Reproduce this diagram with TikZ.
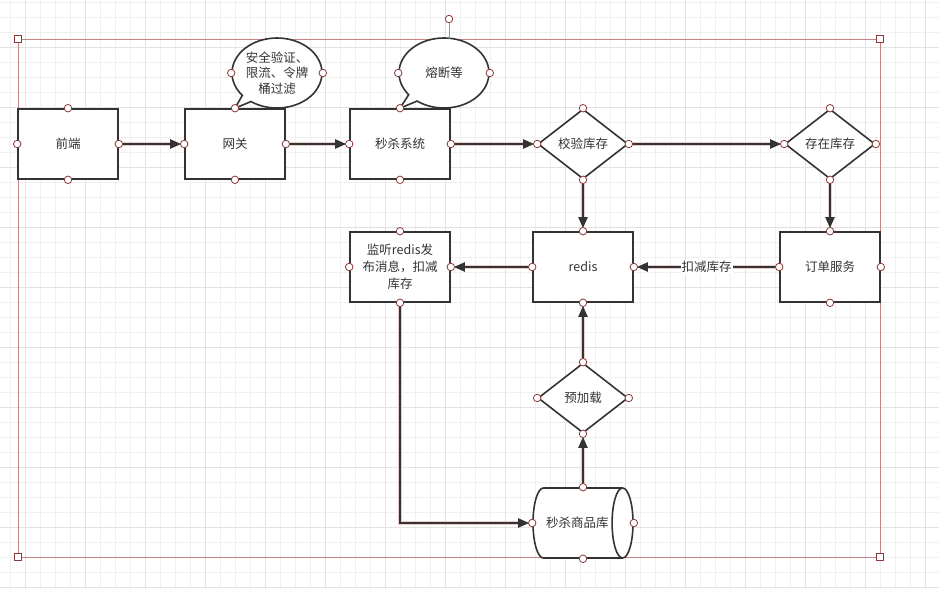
\documentclass[tikz,border=0pt]{standalone}
\usepackage{fontspec}
\setmainfont{Noto Sans CJK SC}
\usetikzlibrary{arrows.meta,positioning,shapes.geometric,shapes.callouts}
\definecolor{ink}{HTML}{333333}
\definecolor{gridminor}{HTML}{F0F0F0}
\definecolor{gridmajor}{HTML}{E2E2E2}
\definecolor{selred}{HTML}{C48484}
\definecolor{grip}{HTML}{8B3A3A}
\definecolor{glow}{HTML}{EBCFCF}
\tikzset{
  box/.style={rectangle, draw=ink, fill=white, line width=1.6pt, minimum width=100pt,
              minimum height=70pt, align=center, inner sep=1pt, text=ink,
              font=\fontsize{12.5}{17}\selectfont},
  decbox/.style={box, diamond, minimum width=90pt, minimum height=70pt, inner sep=0pt},
  callbox/.style={box, ellipse callout, minimum width=90pt, minimum height=70pt, inner sep=0pt,
                  font=\fontsize{12.5}{15.5}\selectfont},
  dbbox/.style={box, cylinder, aspect=1.8, minimum width=70pt, minimum height=100pt, inner sep=0pt},
  lbl/.style={fill=white, inner sep=1pt, text=ink, font=\fontsize{12.5}{15}\selectfont},
  flow/.style={-{Triangle[length=11pt,width=9pt]}, draw=ink, line width=2pt, shorten >=3pt,
               preaction={draw=glow, line width=4.5pt, -, shorten >=12pt}},
  port/.style={circle, draw=grip, fill=white, line width=0.8pt, inner sep=0pt, minimum size=7.5pt},
  corner/.style={rectangle, draw=grip, fill=white, line width=1pt, inner sep=0pt, minimum size=7pt},
}
\begin{document}
\begin{tikzpicture}[x=1pt,y=-1pt]
\useasboundingbox (0,0) rectangle (939,589);
% editor grid
\fill[white] (0,0) rectangle (939,589);
\foreach \gx in {10,25,...,939} \draw[gridminor, line width=0.8pt] (\gx,0) -- (\gx,589);
\foreach \gy in {2,17,...,589} \draw[gridminor, line width=0.8pt] (0,\gy) -- (939,\gy);
\foreach \gx in {25,85,...,939} \draw[gridmajor, line width=1pt] (\gx,0) -- (\gx,589);
\foreach \gy in {47,107,...,589} \draw[gridmajor, line width=1pt] (0,\gy) -- (939,\gy);

% selection frame
\coordinate (selA) at (18,39);
\coordinate (selB) at (880,39);
\coordinate (selC) at (880,557);
\coordinate (selD) at (18,557);
\coordinate (selT) at (449,39);
\draw[selred, line width=0.8pt] (selA) -- (selB) -- (selC) -- (selD) -- cycle;

% nodes
\node[box] (fe) at (68,144) {前端};
\node[box] (gw) at (235,144) {网关};
\node[box] (sk) at (400,144) {秒杀系统};
\node[decbox] (ck) at (583,144) {校验库存};
\node[decbox] (ex) at (830,144) {存在库存};
\node[box] (rd) at (583,267) {redis};
\node[box] (od) at (830,267) {订单服务};
\node[box] (ls) at (400,267) {监听redis发\\布消息，扣减\\库存};
\node[decbox] (pl) at (583,398) {预加载};
\node[dbbox, anchor=shape center] (db) at (583,523) {秒杀商品库};
\coordinate (dbtop) at (pl.south |- db.north);
\coordinate (dbbot) at (pl.south |- db.south);
\node[callbox, callout absolute pointer={(gw.north)}] (cb1) at (277,73) {安全验证、\\限流、令牌\\桶过滤};
\node[callbox, callout absolute pointer={(sk.north)}] (cb2) at (444,73) {熔断等};

% connectors
\draw[flow] (fe.east) -- (gw.west);
\draw[flow] (gw.east) -- (sk.west);
\draw[flow] (sk.east) -- (ck.west);
\draw[flow] (ck.east) -- (ex.west);
\draw[flow] (ck.south) -- (rd.north);
\draw[flow] (ex.south) -- (od.north);
\draw[flow] (od.west) -- node[lbl] (cut) {扣减库存} (rd.east);
\draw[flow] (rd.west) -- (ls.east);
\draw[flow] (ls.south) |- (db.west);
\draw[flow] (dbtop) -- (pl.south);
\draw[flow] (pl.north) -- (rd.south);

% connection points
\foreach \n in {fe,gw,sk,ck,ex,rd,od,ls,pl}
  \foreach \a in {north,south,east,west}
    \node[port] at (\n.\a) {};
\foreach \p in {db.east,db.west,dbtop,dbbot,cb1.east,cb1.west,cb2.east,cb2.west}
  \node[port] at (\p) {};

% selection grips
\node[port] (turn) at (449,19) {};
\draw[selred, line width=0.8pt] (turn) -- (selT);
\foreach \c in {selA,selB,selC,selD}
  \node[corner] at (\c) {};
\end{tikzpicture}
\end{document}
